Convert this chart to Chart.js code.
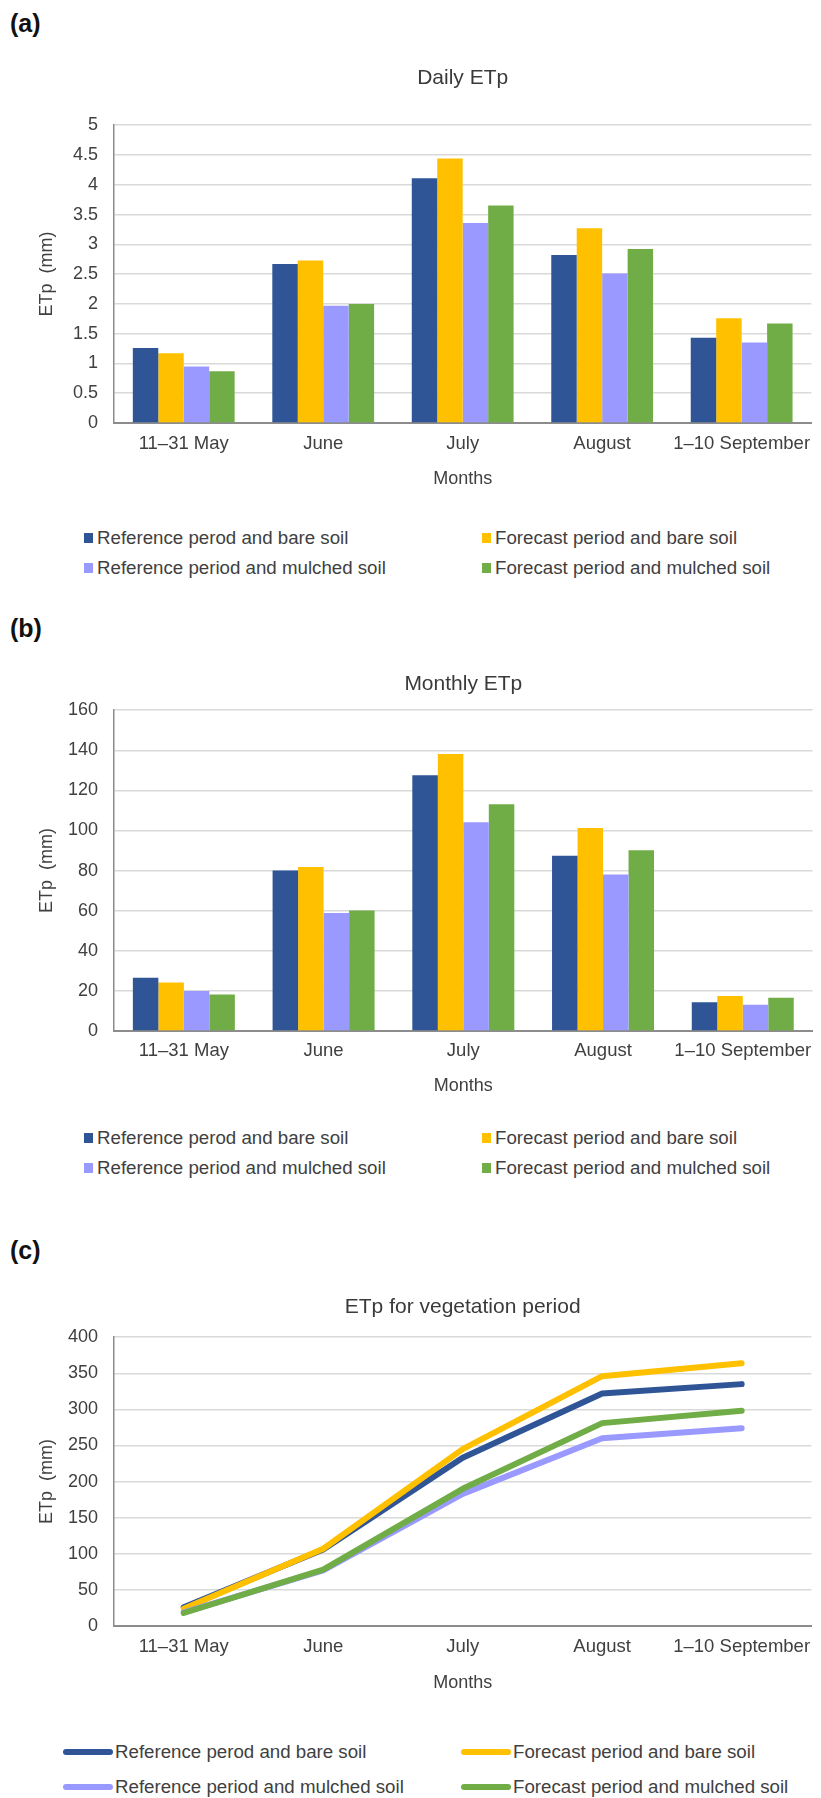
<!DOCTYPE html>
<html>
<head>
<meta charset="utf-8">
<script src="https://cdn.jsdelivr.net/npm/chart.js@4.4.1/dist/chart.umd.min.js"></script>
<style>
    body { margin: 0; background: #fff; width: 821px; height: 1798px; position: relative; overflow: hidden;
           font-family: "Liberation Sans", Arial, sans-serif; }
    .panel { position: absolute; left: 10px; font-size: 25px; font-weight: bold; line-height: 28px; color: #111; }
    canvas { position: absolute; left: 0; }
    .legend { position: absolute; left: 0; width: 821px; height: 80px; font-size: 18.7px; color: #404040; }
    .item { position: absolute; height: 22px; line-height: 22px; white-space: nowrap; }
    .mark { position: absolute; }
</style>
</head>
<body>
<div class="panel" style="top: 9px">(a)</div>
<canvas id="dailyChart" width="821" height="457" style="top: 40px"></canvas>
<div class="legend" id="dailyLegend" style="top: 527px"></div>

<div class="panel" style="top: 614px">(b)</div>
<canvas id="monthlyChart" width="821" height="454" style="top: 650px"></canvas>
<div class="legend" id="monthlyLegend" style="top: 1127px"></div>

<div class="panel" style="top: 1236px">(c)</div>
<canvas id="seasonChart" width="821" height="431" style="top: 1270px"></canvas>
<div class="legend" id="seasonLegend" style="top: 1741px"></div>

<script>
const months = ["11–31 May", "June", "July", "August", "1–10 September"];
const seriesNames = [
    "Reference perod and bare soil",
    "Forecast period and bare soil",
    "Reference period and mulched soil",
    "Forecast period and mulched soil",
];
const seriesColors = ["#2f5597", "#ffc000", "#9999ff", "#70ad47"];

// (a) daily ETp, mm
const dailyRefBare = [1.26, 2.67, 4.11, 2.82, 1.43];
const dailyForBare = [1.17, 2.73, 4.44, 3.27, 1.76];
const dailyRefMulch = [0.95, 1.97, 3.36, 2.51, 1.35];
const dailyForMulch = [0.87, 2.0, 3.65, 2.92, 1.67];

// (b) monthly ETp, mm
const monthlyRefBare = [26.5, 80.1, 127.5, 87.4, 14.3];
const monthlyForBare = [24.2, 81.8, 138.2, 101.3, 17.5];
const monthlyRefMulch = [19.9, 58.9, 104.1, 78.0, 13.1];
const monthlyForMulch = [18.2, 60.1, 113.1, 90.2, 16.6];

// (c) cumulative ETp over the vegetation period, mm
const seasonRefBare = [26, 106, 233, 322, 335];
const seasonForBare = [24, 107, 245, 346, 364];
const seasonRefMulch = [19, 77, 183, 260, 274];
const seasonForMulch = [18, 78, 190, 281, 298];

Chart.defaults.font.family = "'Liberation Sans', Arial, sans-serif";
Chart.defaults.color = "#404040";

// layout numbers are per panel: title padding, x tick padding, x axis height
function buildOptions(title, yMax, yStep, layout) {
    return {
        responsive: false,
        animation: false,
        layout: { padding: 0 },
        plugins: {
            legend: { display: false },
            tooltip: { enabled: false },
            title: {
                display: true,
                text: title,
                fullSize: false,
                color: "#3a3a3a",
                font: { size: 21, weight: "normal" },
                padding: layout.titlePad,
            },
        },
        scales: {
            x: {
                offset: true,
                grid: { display: false, drawTicks: false },
                border: { display: true, color: "#8c8c8c", width: 2 },
                ticks: { font: { size: 18.5 }, padding: layout.tickPad, maxRotation: 0, minRotation: 0, autoSkip: false },
                title: { display: true, text: "Months", font: { size: 18 }, padding: { top: 0, bottom: 7 } },
                afterFit: (scale) => { scale.height = layout.xHeight; },
            },
            y: {
                min: 0,
                max: yMax,
                grid: { color: "#d9d9d9", lineWidth: 1.5, drawTicks: false },
                border: { display: true, color: "#8c8c8c", width: 1.5 },
                ticks: {
                    stepSize: yStep,
                    font: { size: 18 },
                    padding: 16,
                    callback: (value) => String(+value.toFixed(2)),
                },
                title: { display: true, text: "ETp  (mm)", font: { size: 18 }, padding: { top: 36, bottom: 0 } },
                afterFit: (scale) => { scale.width = 114; },
            },
        },
    };
}

function barChart(id, title, values, yMax, yStep, layout) {
    return new Chart(document.getElementById(id), {
        type: "bar",
        data: {
            labels: months,
            datasets: values.map((data, i) => ({
                label: seriesNames[i],
                data: data,
                backgroundColor: seriesColors[i],
                borderWidth: 0,
                barPercentage: 1,
                categoryPercentage: 0.73,
            })),
        },
        options: buildOptions(title, yMax, yStep, layout),
    });
}

function lineChart(id, title, values, yMax, yStep, layout) {
    return new Chart(document.getElementById(id), {
        type: "line",
        data: {
            labels: months,
            datasets: values.map((data, i) => ({
                label: seriesNames[i],
                data: data,
                borderColor: seriesColors[i],
                backgroundColor: seriesColors[i],
                borderWidth: 6,
                borderCapStyle: "round",
                borderJoinStyle: "round",
                pointRadius: 0,
                tension: 0,
                order: values.length - i,
            })),
        },
        options: buildOptions(title, yMax, yStep, layout),
    });
}

// two-column legend built from the chart's own datasets
function renderLegend(chart, el, asLine) {
    const cols = asLine ? [63, 461] : [84, 482];
    const rowGap = asLine ? 35 : 30;
    chart.data.datasets.forEach((ds, i) => {
        const item = document.createElement("div");
        item.className = "item";
        item.style.left = cols[i % 2] + "px";
        item.style.top = Math.floor(i / 2) * rowGap + "px";
        const mark = document.createElement("span");
        mark.className = "mark";
        if (asLine) {
            Object.assign(mark.style, { left: "0px", top: "8px", width: "50px", height: "6px", borderRadius: "3px" });
        } else {
            Object.assign(mark.style, { left: "0px", top: "6px", width: "9px", height: "10px" });
        }
        mark.style.background = ds.borderColor || ds.backgroundColor;
        const text = document.createElement("span");
        text.textContent = ds.label;
        text.style.marginLeft = (asLine ? 52 : 13) + "px";
        item.appendChild(mark);
        item.appendChild(text);
        el.appendChild(item);
    });
}

const daily = barChart("dailyChart", "Daily ETp",
    [dailyRefBare, dailyForBare, dailyRefMulch, dailyForMulch], 5, 0.5,
    { titlePad: { top: 26, bottom: 34 }, tickPad: 10, xHeight: 74 });
const monthly = barChart("monthlyChart", "Monthly ETp",
    [monthlyRefBare, monthlyForBare, monthlyRefMulch, monthlyForMulch], 160, 20,
    { titlePad: { top: 22, bottom: 13 }, tickPad: 9, xHeight: 73 });
const season = lineChart("seasonChart", "ETp for vegetation period",
    [seasonRefBare, seasonForBare, seasonRefMulch, seasonForMulch], 400, 50,
    { titlePad: { top: 25, bottom: 17 }, tickPad: 10, xHeight: 75 });

renderLegend(daily, document.getElementById("dailyLegend"), false);
renderLegend(monthly, document.getElementById("monthlyLegend"), false);
renderLegend(season, document.getElementById("seasonLegend"), true);
</script>
</body>
</html>
